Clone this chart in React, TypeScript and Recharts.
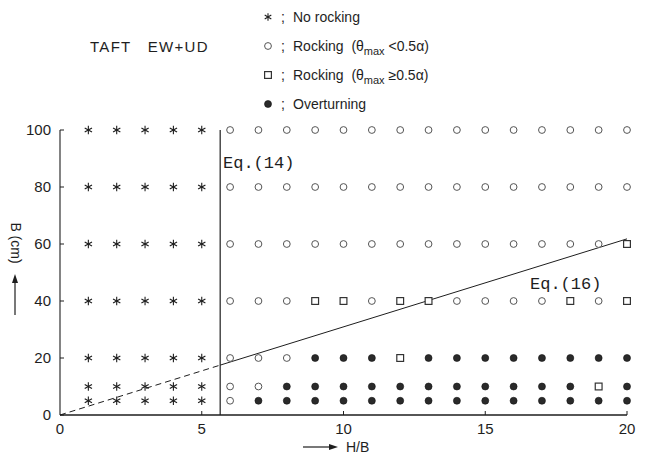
import React from "react";
import {
  ComposedChart,
  Scatter,
  XAxis,
  YAxis,
  ReferenceLine,
} from "recharts";

// H/B columns and B (cm) rows of the test grid
const hbValues = [1, 2, 3, 4, 5, 6, 7, 8, 9, 10, 11, 12, 13, 14, 15, 16, 17, 18, 19, 20];
const bRows = [100, 80, 60, 40, 20, 10, 5];

// Response class per grid cell, one string per B row, one letter per H/B column
// A = no rocking, O = rocking (small), S = rocking (large), F = overturning
const row100 = "AAAAAOOOOOOOOOOOOOOO";
const row80 = "AAAAAOOOOOOOOOOOOOOO";
const row60 = "AAAAAOOOOOOOOOOOOOOS";
const row40 = "AAAAAOOOSSOSSOOOOSOS";
const row20 = "AAAAAOOOFFFSFFFFFFFF";
const row10 = "AAAAAOOFFFFFFFFFFFSF";
const row5 = "AAAAAOFFFFFFFFFFFFFF";
const rowCodes = [row100, row80, row60, row40, row20, row10, row5];

// Boundary lines
const eq14X = 5.65;
const eq16Dashed = [
  { x: 0, y: 0 },
  { x: 5.65, y: 17.5 },
];
const eq16Solid = [
  { x: 5.65, y: 17.5 },
  { x: 20, y: 61.8 },
];

const xTicks = [0, 5, 10, 15, 20];
const yTicks = [0, 20, 40, 60, 80, 100];

type Pt = { hb: number; b: number };

function pointsFor(code: string): Pt[] {
  const out: Pt[] = [];
  rowCodes.forEach((row, ri) => {
    for (let ci = 0; ci < hbValues.length; ci++) {
      if (row[ci] === code) out.push({ hb: hbValues[ci], b: bRows[ri] });
    }
  });
  return out;
}

const noRocking = pointsFor("A");
const rockSmall = pointsFor("O");
const rockLarge = pointsFor("S");
const overturn = pointsFor("F");

const INK = "#1e1e1e";
const SANS = "'Liberation Sans', Arial, sans-serif";
const MONO = "'Liberation Mono', 'Courier New', monospace";

function Asterisk({ cx, cy, r = 4.2 }: { cx: number; cy: number; r?: number }) {
  const arms = [90, 30, 150].map((deg) => {
    const a = (deg * Math.PI) / 180;
    const dx = Math.cos(a) * r;
    const dy = Math.sin(a) * r;
    return (
      <line
        key={deg}
        x1={cx - dx}
        y1={cy - dy}
        x2={cx + dx}
        y2={cy + dy}
        stroke={INK}
        strokeWidth={1.1}
      />
    );
  });
  return <g>{arms}</g>;
}

function OpenCircle({ cx, cy }: { cx: number; cy: number }) {
  return <circle cx={cx} cy={cy} r={3.4} fill="#fff" stroke="#555" strokeWidth={1} />;
}

function OpenSquare({ cx, cy }: { cx: number; cy: number }) {
  return (
    <rect x={cx - 3.4} y={cy - 3.4} width={6.8} height={6.8} fill="#fff" stroke="#333" strokeWidth={1.2} />
  );
}

function FilledCircle({ cx, cy }: { cx: number; cy: number }) {
  return <circle cx={cx} cy={cy} r={3.5} fill="#2a2a2a" stroke="#111" strokeWidth={0.6} />;
}

const YTick = (props: any) => {
  const { x, y, payload } = props;
  return (
    <g>
      <line x1={x + 8} y1={y} x2={x + 12} y2={y} stroke={INK} strokeWidth={1} />
      <text x={x - 1} y={y} dy={5} textAnchor="end" fontFamily={SANS} fontSize={15} fill={INK}>
        {payload.value}
      </text>
    </g>
  );
};

const XTick = (props: any) => {
  const { x, y, payload } = props;
  return (
    <g>
      {payload.value !== 0 && (
        <line x1={x} y1={y - 14} x2={x} y2={y - 18} stroke={INK} strokeWidth={1} />
      )}
      <text x={x} y={y} dy={5} textAnchor="middle" fontFamily={SANS} fontSize={15} fill={INK}>
        {payload.value}
      </text>
    </g>
  );
};

const legendItems = [
  { key: "a", text: <>No rocking</> },
  {
    key: "o",
    text: (
      <>
        Rocking{"  "}(θ<tspan fontSize={11} dy={4}>max</tspan>
        <tspan dy={-4}>{" "}&lt;0.5α)</tspan>
      </>
    ),
  },
  {
    key: "s",
    text: (
      <>
        Rocking{"  "}(θ<tspan fontSize={11} dy={4}>max</tspan>
        <tspan dy={-4}>{" "}≥0.5α)</tspan>
      </>
    ),
  },
  { key: "f", text: <>Overturning</> },
];

const LegendBox = () => (
  <g transform="translate(260 0)">
    {legendItems.map((it, i) => {
      const y = 17 + i * 29;
      return (
        <g key={it.key}>
          {it.key === "a" && <Asterisk cx={8} cy={y} r={3.8} />}
          {it.key === "o" && <OpenCircle cx={8} cy={y} />}
          {it.key === "s" && <OpenSquare cx={8} cy={y} />}
          {it.key === "f" && <FilledCircle cx={8} cy={y} />}
          <text x={21} y={y + 5} fontFamily={SANS} fontSize={14} fill={INK}>
            ;
          </text>
          <text x={33} y={y + 5} fontFamily={SANS} fontSize={14} fill={INK} xmlSpace="preserve">
            {it.text}
          </text>
        </g>
      );
    })}
  </g>
);

export default function App() {
  return (
    <div style={{ position: "fixed", left: 0, top: 0, width: 651, height: 459, background: "#fff" }}>
      <ComposedChart
        width={651}
        height={459}
        margin={{ top: 130, right: 24, bottom: 14, left: 0 }}
      >
        <XAxis
          type="number"
          dataKey="hb"
          domain={[0, 20]}
          ticks={xTicks}
          tick={<XTick />}
          tickLine={false}
          tickSize={0}
          tickMargin={14}
          height={30}
          axisLine={{ stroke: INK, strokeWidth: 1.3 }}
        />
        <YAxis
          type="number"
          dataKey="b"
          domain={[0, 100]}
          ticks={yTicks}
          tick={<YTick />}
          tickLine={false}
          tickSize={0}
          tickMargin={8}
          width={60}
          axisLine={{ stroke: INK, strokeWidth: 1.1 }}
        />
        <ReferenceLine x={eq14X} stroke={INK} strokeWidth={1.2} />
        <ReferenceLine segment={eq16Dashed} stroke={INK} strokeWidth={1} strokeDasharray="6 4" />
        <ReferenceLine segment={eq16Solid} stroke={INK} strokeWidth={1} />
        <Scatter
          name="No rocking"
          data={noRocking}
          isAnimationActive={false}
          shape={(p: any) => <Asterisk cx={p.cx} cy={p.cy} />}
        />
        <Scatter
          name="Rocking small"
          data={rockSmall}
          isAnimationActive={false}
          shape={(p: any) => <OpenCircle cx={p.cx} cy={p.cy} />}
        />
        <Scatter
          name="Rocking large"
          data={rockLarge}
          isAnimationActive={false}
          shape={(p: any) => <OpenSquare cx={p.cx} cy={p.cy} />}
        />
        <Scatter
          name="Overturning"
          data={overturn}
          isAnimationActive={false}
          shape={(p: any) => <FilledCircle cx={p.cx} cy={p.cy} />}
        />
        <ReferenceLine
          y={88.8}
          stroke="none"
          label={{
            value: "Eq.(14)",
            position: "insideLeft",
            dx: 158,
            fontFamily: MONO,
            fontSize: 17,
            fill: INK,
          }}
        />
        <ReferenceLine
          y={46.5}
          stroke="none"
          label={{
            value: "Eq.(16)",
            position: "insideLeft",
            dx: 465,
            fontFamily: MONO,
            fontSize: 17,
            fill: INK,
          }}
        />
      </ComposedChart>
      <svg
        width={651}
        height={459}
        style={{ position: "absolute", left: 0, top: 0, pointerEvents: "none" }}
      >
        <LegendBox />
        <text x={90} y={52} fontFamily={SANS} fontSize={15} fill={INK} letterSpacing={1.3} xmlSpace="preserve">
          TAFT   EW+UD
        </text>
        <text
          transform="translate(11 243) rotate(90)"
          textAnchor="middle"
          fontFamily={SANS}
          fontSize={14}
          fill={INK}
        >
          B (cm)
        </text>
        <line x1={15} y1={315} x2={15} y2={279} stroke={INK} strokeWidth={1.2} />
        <path d="M 15 274 L 12 283 L 18 283 Z" fill={INK} />
        <line x1={303} y1={447} x2={332} y2={447} stroke={INK} strokeWidth={1.2} />
        <path d="M 338 447 L 329 444 L 329 450 Z" fill={INK} />
        <text x={346} y={452} fontFamily={SANS} fontSize={14} fill={INK}>
          H/B
        </text>
      </svg>
    </div>
  );
}
